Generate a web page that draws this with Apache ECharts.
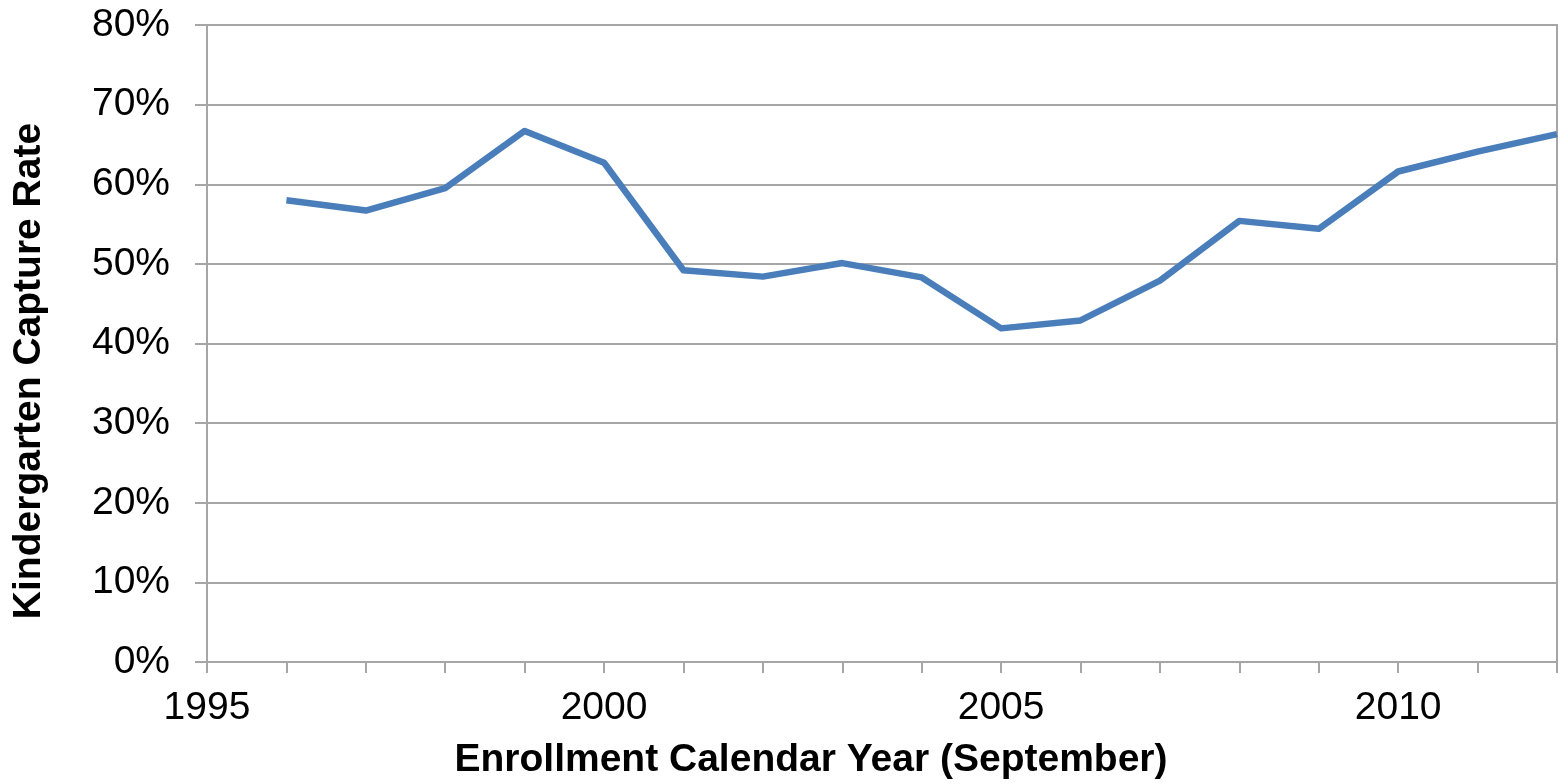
<!DOCTYPE html>
<html>
<head>
<meta charset="utf-8">
<script src="https://cdn.jsdelivr.net/npm/echarts@6/dist/echarts.min.js"></script>
<style>
html,body{margin:0;padding:0;background:#fff;}
#chart{width:1560px;height:784px;}
</style>
</head>
<body>
<div id="chart"></div>
<script>
const years = [1996,1997,1998,1999,2000,2001,2002,2003,2004,2005,2006,2007,2008,2009,2010,2011,2012];
const captureRate = [58.0,56.7,59.5,66.7,62.7,49.2,48.4,50.1,48.3,41.9,42.9,47.9,55.4,54.4,61.6,64.1,66.3];
const yTicks = {min:0, max:80, interval:10};
const xTicks = {min:1995, max:2012, interval:1, labelEvery:5};
const xTitle = 'Enrollment Calendar Year (September)';
const yTitle = 'Kindergarten Capture Rate';

const chart = echarts.init(document.getElementById('chart'), null, {renderer:'canvas'});
const font = '"Liberation Sans", Arial, sans-serif';
const gray = '#a6a6a6';
chart.setOption({
  animation:false,
  grid:{left:207, right:3, top:25, bottom:122, show:true, borderColor:gray, borderWidth:2,
        containLabel:false, outerBoundsMode:'none'},
  graphic:[
    {type:'text', x:811, y:760, style:{text:xTitle, font:'bold 39px ' + font, fill:'#000',
      x:0, y:0, textAlign:'center', textVerticalAlign:'middle'}},
    {type:'text', rotation:Math.PI/2, x:29, y:371, style:{text:yTitle, font:'bold 39px ' + font, fill:'#000',
      x:0, y:0, textAlign:'center', textVerticalAlign:'middle'}}
  ],
  xAxis:{
    type:'value', min:xTicks.min, max:xTicks.max, interval:xTicks.interval,
    axisLine:{show:true, lineStyle:{color:gray, width:2}},
    axisTick:{show:true, length:11, lineStyle:{color:gray, width:2}},
    splitLine:{show:false},
    axisLabel:{fontFamily:font, fontSize:39, color:'#000', margin:27,
      formatter:v => (v % xTicks.labelEvery === 0 ? String(v) : '')}
  },
  yAxis:{
    type:'value', min:yTicks.min, max:yTicks.max, interval:yTicks.interval,
    axisLine:{show:true, lineStyle:{color:gray, width:2}},
    axisTick:{show:true, length:12, lineStyle:{color:gray, width:2}},
    splitLine:{show:true, lineStyle:{color:gray, width:2}},
    axisLabel:{fontFamily:font, fontSize:39, color:'#000', margin:37, formatter:'{value}%'}
  },
  series:[{
    type:'line',
    data:years.map((y,i)=>[y, captureRate[i]]),
    showSymbol:false, symbol:'none',
    lineStyle:{color:'#4a7ebb', width:6.5, join:'round'},
    itemStyle:{color:'#4a7ebb'}
  }]
});
</script>
</body>
</html>
